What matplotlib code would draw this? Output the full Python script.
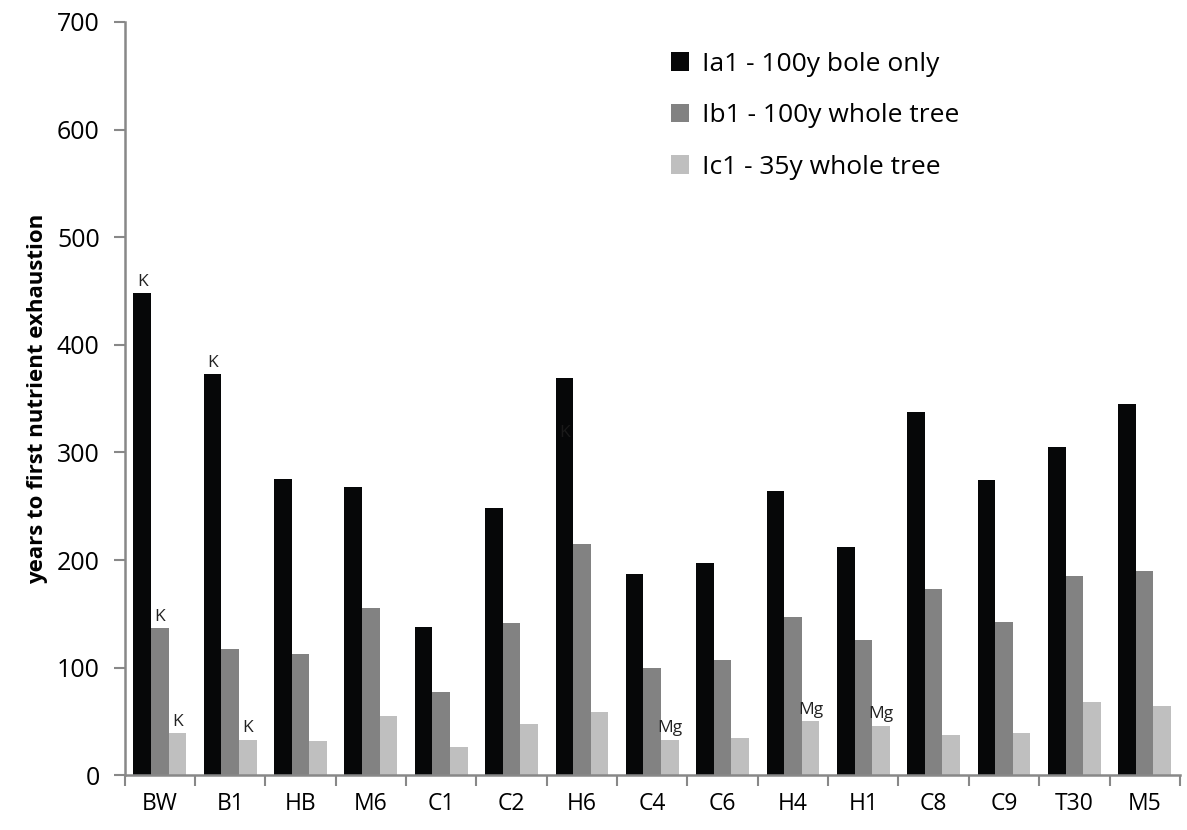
import matplotlib
matplotlib.use("Agg")
import matplotlib.pyplot as plt
import numpy as np

categories = ["BW", "B1", "HB", "M6", "C1", "C2", "H6", "C4", "C6", "H4", "H1", "C8", "C9", "T30", "M5"]
ia1 = [448, 373, 275, 268, 138, 248, 369, 187, 197, 264, 212, 338, 274, 305, 345]
ib1 = [137, 117, 113, 155, 77, 141, 215, 100, 107, 147, 126, 173, 142, 185, 190]
ic1 = [39, 33, 32, 55, 26, 48, 59, 33, 35, 50, 46, 37, 39, 68, 64]
series_labels = ["Ia1 - 100y bole only", "Ib1 - 100y whole tree", "Ic1 - 35y whole tree"]
colors = ["#060708", "#828282", "#bfbfbf"]

# annotations: (category index, series index, text)
notes = [(0, 0, "K"), (0, 1, "K"), (0, 2, "K"), (1, 0, "K"), (1, 2, "K"),
         (7, 2, "Mg"), (9, 2, "Mg"), (10, 2, "Mg")]
inner_note = (6, 0, "K", 318)

plt.rcParams['font.family'] = ['Open Sans', 'DejaVu Sans']

fig = plt.figure(figsize=(11.87, 8.30), dpi=100)
ax = fig.add_axes([0.105, 0.066, 0.889, 0.9075])

x = np.arange(len(categories))
w = 0.25
data = [ia1, ib1, ic1]
for i, (vals, lab, c) in enumerate(zip(data, series_labels, colors)):
    ax.bar(x + (i - 1) * w, vals, width=w, color=c, label=lab, edgecolor='none')

for ci, si, t in notes:
    ax.text(x[ci] + (si - 1) * w, data[si][ci] + 3, t, ha='center', va='bottom',
            fontsize=12.5, color='#222222')
ci, si, t, yv = inner_note
ax.text(x[ci] + (si - 1) * w, yv, t, ha='center', va='center', fontsize=12.5, color='#1a1a1a')

ax.set_xlim(-0.5, len(categories) - 0.5)
ax.set_ylim(0, 700)
ax.set_yticks(range(0, 701, 100))
ax.set_xticks(x)
ax.set_xticklabels(categories, fontsize=16.5)
ax.set_xticks(np.arange(-0.5, len(categories), 1), minor=True)
ax.tick_params(axis='x', which='major', length=0, pad=12)
ax.tick_params(axis='x', which='minor', length=8, color='#888888', width=1.5, direction='out')
ax.tick_params(axis='y', labelsize=18, length=8, color='#888888', width=1.5, direction='out', pad=10)

for s in ['top', 'right']:
    ax.spines[s].set_visible(False)
for s in ['left', 'bottom']:
    ax.spines[s].set_color('#888888')
    ax.spines[s].set_linewidth(1.8)

ax.set_ylabel("years to first nutrient exhaustion", fontsize=16, fontweight='bold', labelpad=6)

leg = ax.legend(loc='upper left', bbox_to_anchor=(0.5, 0.985), frameon=False,
                fontsize=19, handlelength=0.7, handleheight=0.7, labelspacing=1.0,
                handletextpad=0.5, borderaxespad=0.3)

fig.savefig("out.png", dpi=100)
